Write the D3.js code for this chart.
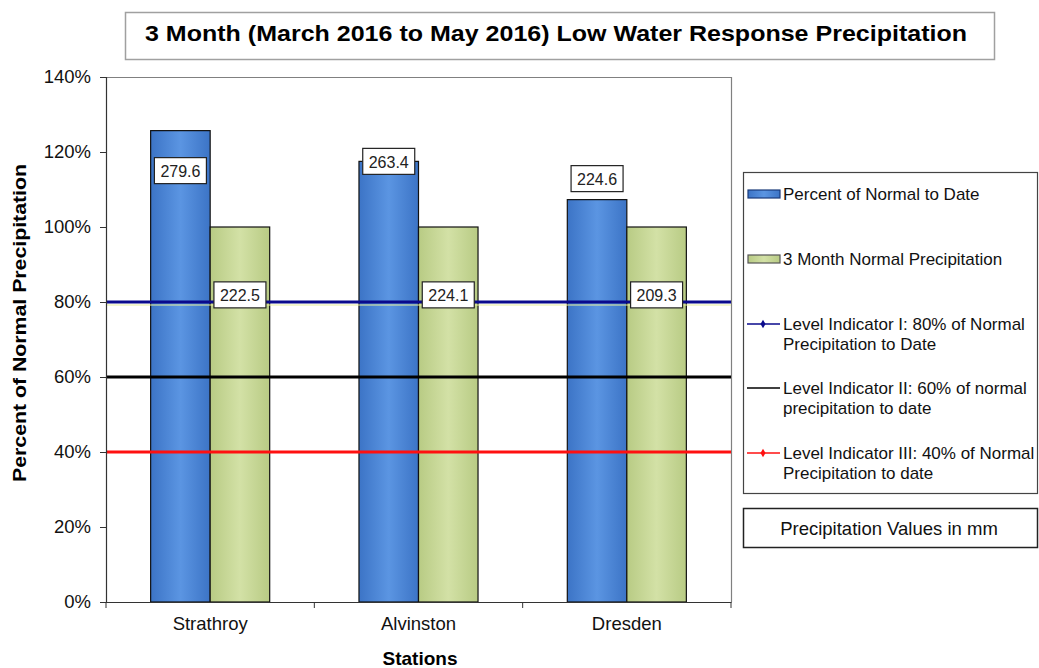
<!DOCTYPE html>
<html>
<head>
<meta charset="utf-8">
<script src="https://cdn.jsdelivr.net/npm/d3@7"></script>
<style>
  html, body { margin: 0; padding: 0; background: #fff; }
  svg { display: block; font-family: "Liberation Sans", Arial, sans-serif; }
</style>
</head>
<body>
<svg id="chart" width="1039" height="668"></svg>
<script>
// ---------- data ----------
const stations = ["Strathroy", "Alvinston", "Dresden"];
const percentOfNormal = [1.257, 1.175, 1.073];      // Percent of Normal to Date
const normalPct = [1.0, 1.0, 1.0];                  // 3 Month Normal Precipitation
const actualMm = ["279.6", "263.4", "224.6"];       // labels on blue bars
const normalMm = ["222.5", "224.1", "209.3"];       // labels on green bars
const levelValues = [0.8, 0.6, 0.4];
const levelNames = [
  ["Level Indicator I: 80% of Normal", "Precipitation to Date"],
  ["Level Indicator II: 60% of normal", "precipitation to date"],
  ["Level Indicator III: 40% of Normal", "Precipitation to date"]
];
const yTicks = [0, 0.2, 0.4, 0.6, 0.8, 1.0, 1.2, 1.4];
const titleText = "3 Month (March 2016 to May 2016) Low Water Response Precipitation";

// ---------- layout / style ----------
const plot = { left: 106, right: 731, top: 77, bottom: 602 };
const levelColors = ["#0a0a8c", "#000000", "#ff1010"];
const blueLabelOffset = [40, 0, -21];   // px offset of label centre from bar top
const greenLabelY = 0.819;

const svg = d3.select("#chart");
const defs = svg.append("defs");
function grad(id, edge, mid) {
  const g = defs.append("linearGradient").attr("id", id).attr("x1", "0").attr("x2", "1").attr("y1", "0").attr("y2", "0");
  g.append("stop").attr("offset", "0%").attr("stop-color", edge);
  g.append("stop").attr("offset", "50%").attr("stop-color", mid);
  g.append("stop").attr("offset", "100%").attr("stop-color", edge);
}
grad("gBlue", "#3c74c6", "#5b95e2");
grad("gGreen", "#b8cb84", "#d3e1a6");

const x = d3.scaleBand().domain(stations).range([plot.left, plot.right]).padding(0);
const x1 = d3.scaleBand().domain(["pct", "norm"]).range([0, x.bandwidth()]).paddingInner(0).paddingOuter(0.75);
const y = d3.scaleLinear().domain([0, 1.4]).range([plot.bottom, plot.top]);

// title box
svg.append("rect").attr("x", 125.5).attr("y", 12.5).attr("width", 869).attr("height", 47)
  .attr("fill", "#fff").attr("stroke", "#a0a0a0").attr("stroke-width", 1.5);
svg.append("text").attr("x", 556).attr("y", 33).attr("text-anchor", "middle").attr("dominant-baseline", "central")
  .attr("font-weight", "bold").attr("font-size", 22.5)
  .attr("textLength", 822).attr("lengthAdjust", "spacingAndGlyphs").text(titleText);

// plot frame (top & right)
svg.append("path").attr("d", `M${plot.left},${plot.top + 0.5}H${plot.right + 0.5}V${plot.bottom}`)
  .attr("fill", "none").attr("stroke", "#808080").attr("stroke-width", 1.2);

// bars
const groups = svg.append("g").selectAll("g").data(stations).join("g")
  .attr("transform", d => `translate(${x(d)},0)`);
groups.append("rect")
  .attr("x", x1("pct")).attr("width", x1.bandwidth())
  .attr("y", (d, i) => y(percentOfNormal[i])).attr("height", (d, i) => y(0) - y(percentOfNormal[i]))
  .attr("fill", "url(#gBlue)").attr("stroke", "#111").attr("stroke-width", 1.2);
groups.append("rect")
  .attr("x", x1("norm")).attr("width", x1.bandwidth())
  .attr("y", (d, i) => y(normalPct[i])).attr("height", (d, i) => y(0) - y(normalPct[i]))
  .attr("fill", "url(#gGreen)").attr("stroke", "#111").attr("stroke-width", 1.2);

// level indicator lines
svg.append("line").attr("x1", plot.left).attr("x2", plot.right).attr("y1", y(0.8) + 3).attr("y2", y(0.8) + 3)
  .attr("stroke", "#e8ef9a").attr("stroke-width", 1);
levelValues.forEach((v, i) => {
  svg.append("line").attr("x1", plot.left).attr("x2", plot.right).attr("y1", y(v)).attr("y2", y(v))
    .attr("stroke", levelColors[i]).attr("stroke-width", 3);
});

// data labels
function labelBox(cx, cy, txt) {
  const w = 52, h = 26;
  svg.append("rect").attr("x", cx - w / 2).attr("y", cy - h / 2).attr("width", w).attr("height", h)
    .attr("fill", "#fff").attr("stroke", "#222").attr("stroke-width", 1.2);
  svg.append("text").attr("x", cx).attr("y", cy + 1).attr("text-anchor", "middle").attr("dominant-baseline", "central")
    .attr("font-size", 16).attr("fill", "#222").text(txt);
}
stations.forEach((s, i) => {
  labelBox(x(s) + x1("pct") + x1.bandwidth() / 2, y(percentOfNormal[i]) + blueLabelOffset[i], actualMm[i]);
  labelBox(x(s) + x1("norm") + x1.bandwidth() / 2, y(greenLabelY), normalMm[i]);
});

// y axis
const yAxis = svg.append("g").attr("transform", `translate(${plot.left},0)`)
  .call(d3.axisLeft(y).tickValues(yTicks).tickFormat(d3.format(".0%")).tickSize(6).tickPadding(9));
yAxis.select(".domain").attr("stroke", "#333").attr("stroke-width", 1.2);
yAxis.selectAll(".tick line").attr("stroke", "#333");
yAxis.selectAll("text").attr("font-size", 18.5).attr("font-family", "Liberation Sans, Arial").attr("fill", "#111");

// x axis
const xAxis = svg.append("g").attr("transform", `translate(0,${plot.bottom})`)
  .call(d3.axisBottom(x).tickSize(0).tickPadding(15));
xAxis.select(".domain").attr("stroke", "#333").attr("stroke-width", 1.2);
xAxis.selectAll("text").attr("font-size", 18.5).attr("font-family", "Liberation Sans, Arial").attr("fill", "#111");
const bounds = stations.map(s => x(s)).concat([plot.right]);
svg.append("g").selectAll("line").data(bounds).join("line")
  .attr("x1", d => d).attr("x2", d => d).attr("y1", plot.bottom).attr("y2", plot.bottom + 6)
  .attr("stroke", "#333");

// axis titles
svg.append("text").attr("transform", "translate(19,323) rotate(-90)").attr("text-anchor", "middle")
  .attr("dominant-baseline", "central").attr("font-weight", "bold").attr("font-size", 19)
  .attr("textLength", 318).attr("lengthAdjust", "spacingAndGlyphs").text("Percent of Normal Precipitation");
svg.append("text").attr("x", 420).attr("y", 658).attr("text-anchor", "middle").attr("dominant-baseline", "central")
  .attr("font-weight", "bold").attr("font-size", 19).text("Stations");

// legend
svg.append("rect").attr("x", 743.5).attr("y", 172.5).attr("width", 294).attr("height", 321)
  .attr("fill", "#fff").attr("stroke", "#444").attr("stroke-width", 1.2);
const lg = svg.append("g");
const tx = 783;
// bar swatches
[["url(#gBlue)", "#1a3a7a", "Percent of Normal to Date", 194], ["url(#gGreen)", "#555", "3 Month Normal Precipitation", 259]]
  .forEach(([f, s, t, cy]) => {
    lg.append("rect").attr("x", 748).attr("y", cy - 4).attr("width", 32).attr("height", 8)
      .attr("fill", f).attr("stroke", s).attr("stroke-width", 1.2);
    lg.append("text").attr("x", tx).attr("y", cy).attr("dominant-baseline", "central")
      .attr("font-size", 17).attr("fill", "#111").text(t);
  });
const lineYs = [324, 388, 453];
levelNames.forEach((lines, i) => {
  const cy = lineYs[i];
  lg.append("line").attr("x1", 747).attr("x2", 780).attr("y1", cy).attr("y2", cy)
    .attr("stroke", levelColors[i]).attr("stroke-width", 1.5);
  if (i !== 1) {
    lg.append("path").attr("d", d3.symbol(d3.symbolDiamond, 22)()).attr("transform", `translate(763,${cy})`)
      .attr("fill", levelColors[i]);
  }
  lines.forEach((t, j) => {
    lg.append("text").attr("x", tx).attr("y", cy + j * 20).attr("dominant-baseline", "central")
      .attr("font-size", 17).attr("fill", "#111").text(t);
  });
});

// note box
svg.append("rect").attr("x", 743.5).attr("y", 508.5).attr("width", 294).attr("height", 39)
  .attr("fill", "#fff").attr("stroke", "#222").attr("stroke-width", 1.5);
svg.append("text").attr("x", 889).attr("y", 528).attr("text-anchor", "middle").attr("dominant-baseline", "central")
  .attr("font-size", 18.5).attr("fill", "#111").text("Precipitation Values in mm");
</script>
</body>
</html>
